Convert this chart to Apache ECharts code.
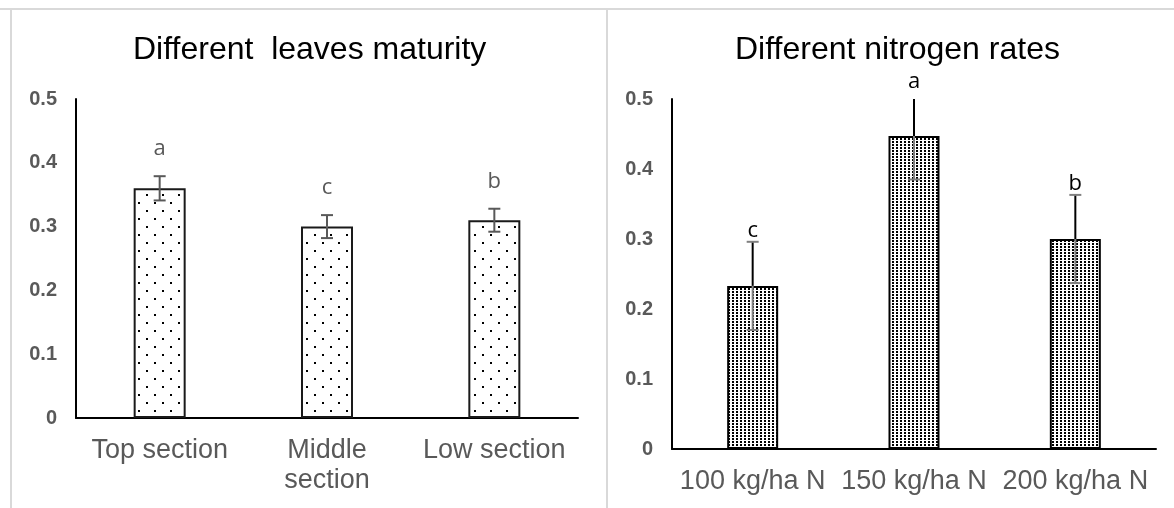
<!DOCTYPE html>
<html>
<head>
<meta charset="utf-8">
<script src="https://cdn.jsdelivr.net/npm/echarts@6/dist/echarts.min.js"></script>
<style>
  html, body { margin: 0; padding: 0; background: #fff; }
  #chart { width: 1174px; height: 508px; }
</style>
</head>
<body>
<div id="chart"></div>
<script>
// left panel: leaves maturity
const leftCats = ['Top section', 'Middle\nsection', 'Low section']
const leftValues = [0.36, 0.30, 0.31]
const leftErrors = [0.019, 0.018, 0.018]
const leftLetters = ['a', 'c', 'b']

// right panel: nitrogen rates
const rightCats = ['100 kg/ha N', '150 kg/ha N', '200 kg/ha N']
const rightValues = [0.233, 0.447, 0.300]
const rightErrors = [0.063, 0.062, 0.063]
const rightLetters = ['c', 'a', 'b']

const FONT = "'Liberation Sans', Arial, sans-serif"
const GREY = '#595959'

// small tiles used as bar fill
function dotPattern(w, h, dots, size) {
  const c = document.createElement('canvas')
  c.width = w
  c.height = h
  const ctx = c.getContext('2d')
  ctx.fillStyle = '#fff'
  ctx.fillRect(0, 0, w, h)
  ctx.fillStyle = '#000'
  dots.forEach(([x, y]) => ctx.fillRect(x, y, size, size))
  return c
}
const sparseDots = dotPattern(16, 16, [[2, 2], [10, 10]], 2)
const denseDots = dotPattern(4, 3, [[0, 0]], 2)

// error bars, clamped to the plot area
function errorBars(innerColor, outerColor) {
  return function (params, api) {
    const cs = params.coordSys
    const i = api.value(0)
    const v = api.value(1)
    const e = api.value(2)
    const hi = api.coord([i, v + e])
    const lo = api.coord([i, v - e])
    const mid = api.coord([i, v])
    const x = hi[0]
    const top = Math.max(hi[1], cs.y)
    const cap = 6
    const children = []
    if (top < mid[1]) {
      children.push({
        type: 'line',
        shape: { x1: x, y1: top, x2: x, y2: mid[1] },
        style: { stroke: outerColor, lineWidth: 2 }
      })
    }
    children.push({
      type: 'line',
      shape: { x1: x, y1: Math.max(mid[1], top), x2: x, y2: lo[1] },
      style: { stroke: innerColor, lineWidth: 2 }
    })
    if (hi[1] >= cs.y) {
      children.push({
        type: 'line',
        shape: { x1: x - cap, y1: hi[1], x2: x + cap, y2: hi[1] },
        style: { stroke: innerColor, lineWidth: 2 }
      })
    }
    children.push({
      type: 'line',
      shape: { x1: x - cap, y1: lo[1], x2: x + cap, y2: lo[1] },
      style: { stroke: innerColor, lineWidth: 2 }
    })
    return { type: 'group', children: children }
  }
}

function letterMarks(letters, gap, color) {
  return function (params, api) {
    const i = api.value(0)
    const p = api.coord([i, api.value(1) + api.value(2)])
    return {
      type: 'text',
      style: {
        text: letters[i],
        x: p[0],
        y: p[1] - gap,
        align: 'center',
        verticalAlign: 'middle',
        fill: color,
        font: "22px 'Open Sans', sans-serif"
      }
    }
  }
}

const errData = (vals, errs) => vals.map((v, i) => [i, v, errs[i]])

function yAxis(idx) {
  return {
    type: 'value',
    gridIndex: idx,
    min: 0,
    max: 0.5,
    interval: 0.1,
    axisLine: { show: true, lineStyle: { color: '#000', width: 2 } },
    axisTick: { show: false },
    splitLine: { show: false },
    axisLabel: { color: GREY, fontFamily: FONT, fontSize: 20, fontWeight: 'bold', margin: 19 }
  }
}

function xAxis(idx, cats) {
  return {
    type: 'category',
    gridIndex: idx,
    data: cats,
    axisLine: { lineStyle: { color: '#000', width: 2 } },
    axisTick: { show: false },
    axisLabel: { color: GREY, fontFamily: FONT, fontSize: 27, lineHeight: 30, margin: 18, interval: 0 }
  }
}

const chart = echarts.init(document.getElementById('chart'), null, { renderer: 'canvas' })

const option = {
  animation: false,
  backgroundColor: '#fff',
  title: [
    {
      text: 'Different  leaves maturity',
      left: 133,
      top: 34,
      padding: 0,
      textStyle: { fontFamily: FONT, fontSize: 32, fontWeight: 'normal', color: '#000' }
    },
    {
      text: 'Different nitrogen rates',
      left: 735,
      top: 34,
      padding: 0,
      textStyle: { fontFamily: FONT, fontSize: 32, fontWeight: 'normal', color: '#000' }
    }
  ],
  grid: [
    { left: 76, top: 99, width: 502, height: 319 },
    { left: 672, top: 99, width: 484, height: 350 }
  ],
  xAxis: [xAxis(0, leftCats), xAxis(1, rightCats)],
  yAxis: [yAxis(0), yAxis(1)],
  graphic: [
    { type: 'line', shape: { x1: 0, y1: 9, x2: 1174, y2: 9 }, style: { stroke: '#d9d9d9', lineWidth: 2 }, silent: true },
    { type: 'line', shape: { x1: 11, y1: 9, x2: 11, y2: 508 }, style: { stroke: '#d9d9d9', lineWidth: 2 }, silent: true },
    { type: 'line', shape: { x1: 607, y1: 9, x2: 607, y2: 508 }, style: { stroke: '#d9d9d9', lineWidth: 2 }, silent: true }
  ],
  series: [
    {
      type: 'bar',
      xAxisIndex: 0,
      yAxisIndex: 0,
      barWidth: 52,
      data: leftValues,
      itemStyle: { color: { image: sparseDots, repeat: 'repeat' }, borderColor: '#1a1a1a', borderWidth: 2 }
    },
    {
      type: 'custom',
      xAxisIndex: 0,
      yAxisIndex: 0,
      renderItem: errorBars(GREY, GREY),
      data: errData(leftValues, leftErrors),
      z: 3
    },
    {
      type: 'custom',
      xAxisIndex: 0,
      yAxisIndex: 0,
      renderItem: letterMarks(leftLetters, 27, GREY),
      data: errData(leftValues, leftErrors),
      z: 3
    },
    {
      type: 'bar',
      xAxisIndex: 1,
      yAxisIndex: 1,
      barWidth: 51,
      data: rightValues,
      itemStyle: { color: { image: denseDots, repeat: 'repeat' }, borderColor: '#000', borderWidth: 2 }
    },
    {
      type: 'custom',
      xAxisIndex: 1,
      yAxisIndex: 1,
      renderItem: errorBars('#808080', '#000'),
      data: errData(rightValues, rightErrors),
      z: 3
    },
    {
      type: 'custom',
      xAxisIndex: 1,
      yAxisIndex: 1,
      renderItem: letterMarks(rightLetters, 11, '#000'),
      data: errData(rightValues, rightErrors),
      z: 3
    }
  ]
}

chart.setOption(option)

window.addEventListener('resize', () => {
  chart.resize()
})
</script>
</body>
</html>
